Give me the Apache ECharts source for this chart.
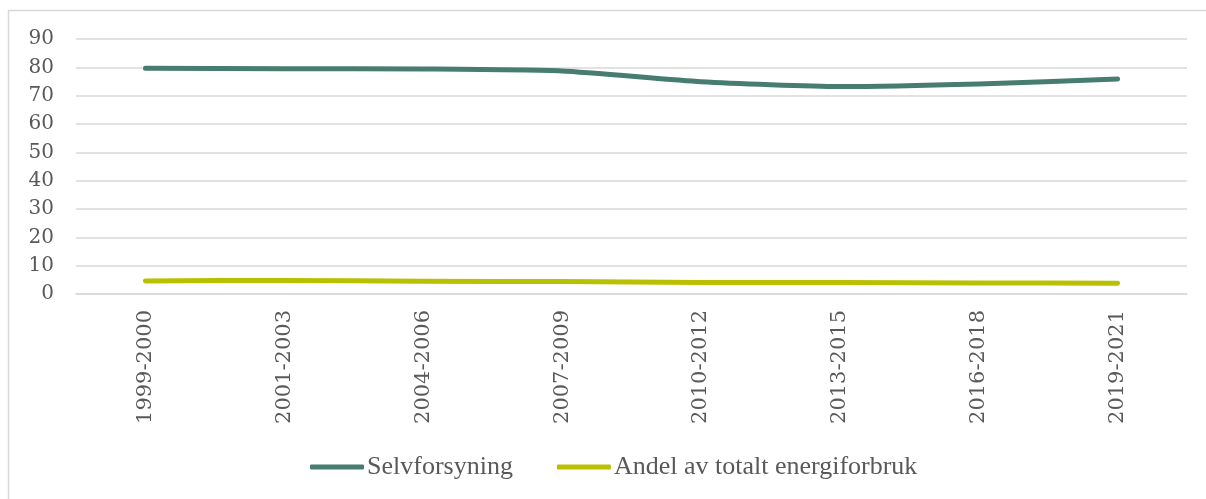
<!DOCTYPE html>
<html>
<head>
<meta charset="utf-8">
<script src="https://cdn.jsdelivr.net/npm/echarts@6/dist/echarts.min.js"></script>
<style>
html, body { margin: 0; padding: 0; background: #fff; }
#chartDiv { width: 1206px; height: 499px; }
</style>
</head>
<body>
<div id="chartDiv"></div>
<script>
// 初始化图表
var myChart = echarts.init(document.getElementById('chartDiv'));

// 数据
var periods = ['1999-2000', '2001-2003', '2004-2006', '2007-2009', '2010-2012', '2013-2015', '2016-2018', '2019-2021'];
var selvforsyning = [79.7, 79.5, 79.4, 78.7, 74.9, 73.2, 74.1, 75.9];
var andelTotalt = [4.6, 4.8, 4.5, 4.4, 4.1, 4.1, 3.9, 3.8];
var seriesNames = ['Selvforsyning', 'Andel av totalt energiforbruk'];
var seriesColors = ['#477c71', '#b8c000'];

var textColor = '#595959';
var gridColor = '#d9d9d9';

function lineSeries(name, data, color) {
    return {
        name: name,
        type: 'line',
        data: data,
        symbol: 'none',
        smooth: 0.2,
        lineStyle: { width: 5, color: color, cap: 'round', join: 'round' },
        itemStyle: { color: color }
    };
}

var option = {
    backgroundColor: '#fff',
    animation: false,
    graphic: [{
        type: 'rect',
        shape: { x: 8.5, y: 10.5, width: 1220, height: 520 },
        style: { fill: 'none', stroke: gridColor, lineWidth: 1.5 },
        silent: true
    }],
    grid: { left: 76, right: 19, top: 39, bottom: 205 },
    legend: {
        bottom: 14,
        left: 305,
        itemWidth: 54,
        itemHeight: 5,
        itemGap: 44,
        icon: 'roundRect',
        textStyle: { fontFamily: 'Liberation Serif', fontSize: 26, color: textColor, padding: [0, 0, 0, -2] },
        data: seriesNames
    },
    xAxis: {
        type: 'category',
        data: periods,
        boundaryGap: true,
        axisLine: { show: true, lineStyle: { color: gridColor, width: 1.5 } },
        axisTick: { show: false },
        axisLabel: {
            rotate: 90,
            margin: 16,
            fontFamily: 'DejaVu Serif',
            fontSize: 21,
            color: textColor
        }
    },
    yAxis: {
        type: 'value',
        min: 0,
        max: 90,
        interval: 10,
        axisLine: { show: false },
        axisTick: { show: false },
        splitLine: { lineStyle: { color: gridColor, width: 1.5 } },
        axisLabel: {
            margin: 22,
            fontFamily: 'DejaVu Serif',
            fontSize: 20,
            color: textColor
        }
    },
    series: [
        lineSeries(seriesNames[0], selvforsyning, seriesColors[0]),
        lineSeries(seriesNames[1], andelTotalt, seriesColors[1])
    ]
};
myChart.setOption(option);
</script>
</body>
</html>
